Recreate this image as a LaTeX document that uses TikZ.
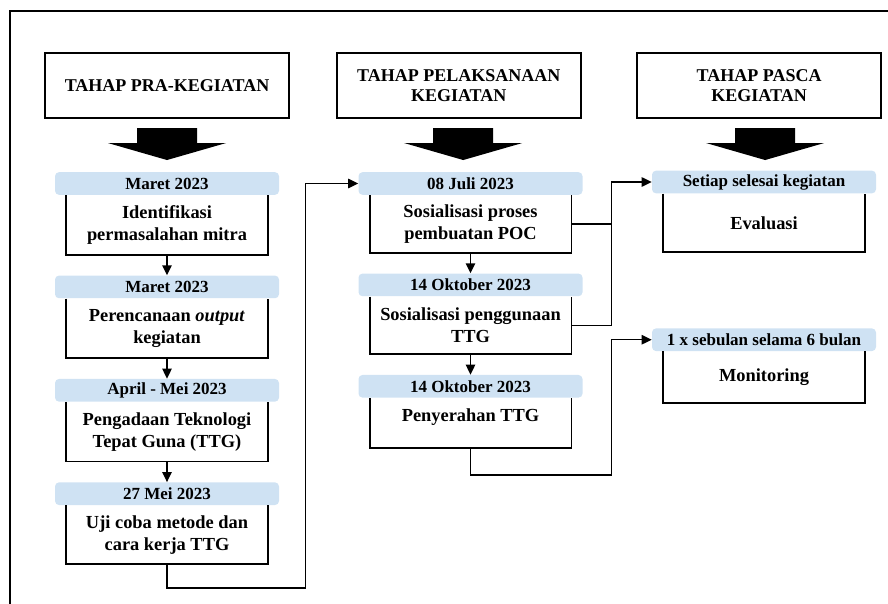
\documentclass[tikz,border=0pt]{standalone}
\usepackage{fontspec}
\setmainfont{Liberation Serif}
\usetikzlibrary{positioning,calc,arrows.meta}
\definecolor{tglbiru}{HTML}{CFE2F3}

\begin{document}
\begin{tikzpicture}[x=0.75pt, y=-0.75pt, node distance=15.5pt,
    tahap/.style={draw, line width=1.3pt, minimum width=183pt, minimum height=49pt, align=center, font=\fontsize{13.5}{15}\selectfont\bfseries},
    tgl/.style={fill=tglbiru, rounded corners=3pt, minimum width=168pt, minimum height=17pt, inner sep=0pt, font=\fontsize{12.75}{14}\selectfont\bfseries},
    isi/.style={minimum width=151pt, minimum height=42.75pt, align=center, inner sep=1pt, font=\fontsize{13.8}{16.5}\selectfont\bfseries},
    alur/.style={line width=1.1pt, -{Triangle[length=7.5pt, width=7pt]}},
    garis/.style={line width=1.1pt}]
        \useasboundingbox (0,0) rectangle (888,603);
        \clip (0,0) rectangle (888,603);
        \draw[line width=1.6pt] (10,11) rectangle (900,620);

        % judul tahap
        \node[tahap] (prakegiatan) at (167,85.5) {TAHAP PRA-KEGIATAN};
        \node[tahap, right=34.5pt of prakegiatan] (pelaksanaan) {TAHAP PELAKSANAAN\\KEGIATAN};
        \node[tahap, right=41pt of pelaksanaan] (pasca) {TAHAP PASCA\\KEGIATAN};

        \foreach \h/\dx in {prakegiatan/0, pelaksanaan/4.5, pasca/6}
            \fill ($(\h.south)+(\dx,0)$) ++(-30,9) -- ++(60,0) -- ++(0,15) -- ++(29,0) -- ++(-59,17) -- ++(-59,-17) -- ++(29,0) -- cycle;

        % pra-kegiatan
        \node[tgl] (identifikasi-tgl) at (167,183.5) {Maret 2023};
        \node[isi, minimum height=44.25pt, below=0pt of identifikasi-tgl] (identifikasi) {Identifikasi\\permasalahan mitra};
        \node[tgl, below=of identifikasi] (perencanaan-tgl) {Maret 2023};
        \node[isi, minimum height=44.25pt, below=0pt of perencanaan-tgl] (perencanaan) {Perencanaan \textit{output}\\kegiatan};
        \node[tgl, below=of perencanaan] (pengadaan-tgl) {April - Mei 2023};
        \node[isi, minimum height=44.25pt, below=0pt of pengadaan-tgl] (pengadaan) {Pengadaan Teknologi\\Tepat Guna (TTG)};
        \node[tgl, below=of pengadaan] (ujicoba-tgl) {27 Mei 2023};
        \node[isi, minimum height=43.5pt, below=0pt of ujicoba-tgl] (ujicoba) {Uji coba metode dan\\cara kerja TTG};

        % pelaksanaan
        \node[tgl] (sosproses-tgl) at (470.5,183.5) {08 Juli 2023};
        \node[isi, below=0pt of sosproses-tgl] (sosproses) {Sosialisasi proses\\pembuatan POC};
        \node[tgl, below=of sosproses] (sospengguna-tgl) {14 Oktober 2023};
        \node[isi, below=0pt of sospengguna-tgl] (sospengguna) {Sosialisasi penggunaan\\TTG};
        \node[tgl, below=of sospengguna] (penyerahan-tgl) {14 Oktober 2023};
        \node[isi, minimum height=37pt, text depth=12pt, below=0pt of penyerahan-tgl] (penyerahan) {Penyerahan TTG};

        % pasca
        \node[tgl] (evaluasi-tgl) at (764,182) {Setiap selesai kegiatan};
        \node[isi, minimum height=43.5pt, below=0pt of evaluasi-tgl] (evaluasi) {Evaluasi};
        \node[tgl, below=57pt of evaluasi] (monitoring-tgl) {1 x sebulan selama 6 bulan};
        \node[isi, minimum height=38.25pt, below=0pt of monitoring-tgl] (monitoring) {Monitoring};

        \foreach \b in {identifikasi, perencanaan, pengadaan, ujicoba, sosproses, sospengguna, penyerahan, evaluasi, monitoring}
            \draw[line width=1.4pt] (\b.north west) |- (\b.south east) -- (\b.north east);

        \draw[alur] (identifikasi) -- (perencanaan-tgl);
        \draw[alur] (perencanaan) -- (pengadaan-tgl);
        \draw[alur] (pengadaan) -- (ujicoba-tgl);
        \draw[alur] (sosproses) -- (sospengguna-tgl);
        \draw[alur] (sospengguna) -- (penyerahan-tgl);

        \coordinate (belok1) at ($(ujicoba.south -| sosproses-tgl.west)+(-53,24)$);
        \draw[alur] (ujicoba.south) |- (belok1) |- (sosproses-tgl.west);
        \coordinate (cabang) at ($(evaluasi-tgl.west)+(-40,0)$);
        \draw[garis] (sosproses.east) -- (sosproses.east -| cabang);
        \draw[alur] (sospengguna.east) -| (cabang) -- (evaluasi-tgl.west);
        \coordinate (belok2) at ($(penyerahan.south -| cabang)+(0,27)$);
        \draw[alur] (penyerahan.south) |- (belok2) |- (monitoring-tgl.west);
    \end{tikzpicture}
\end{document}
